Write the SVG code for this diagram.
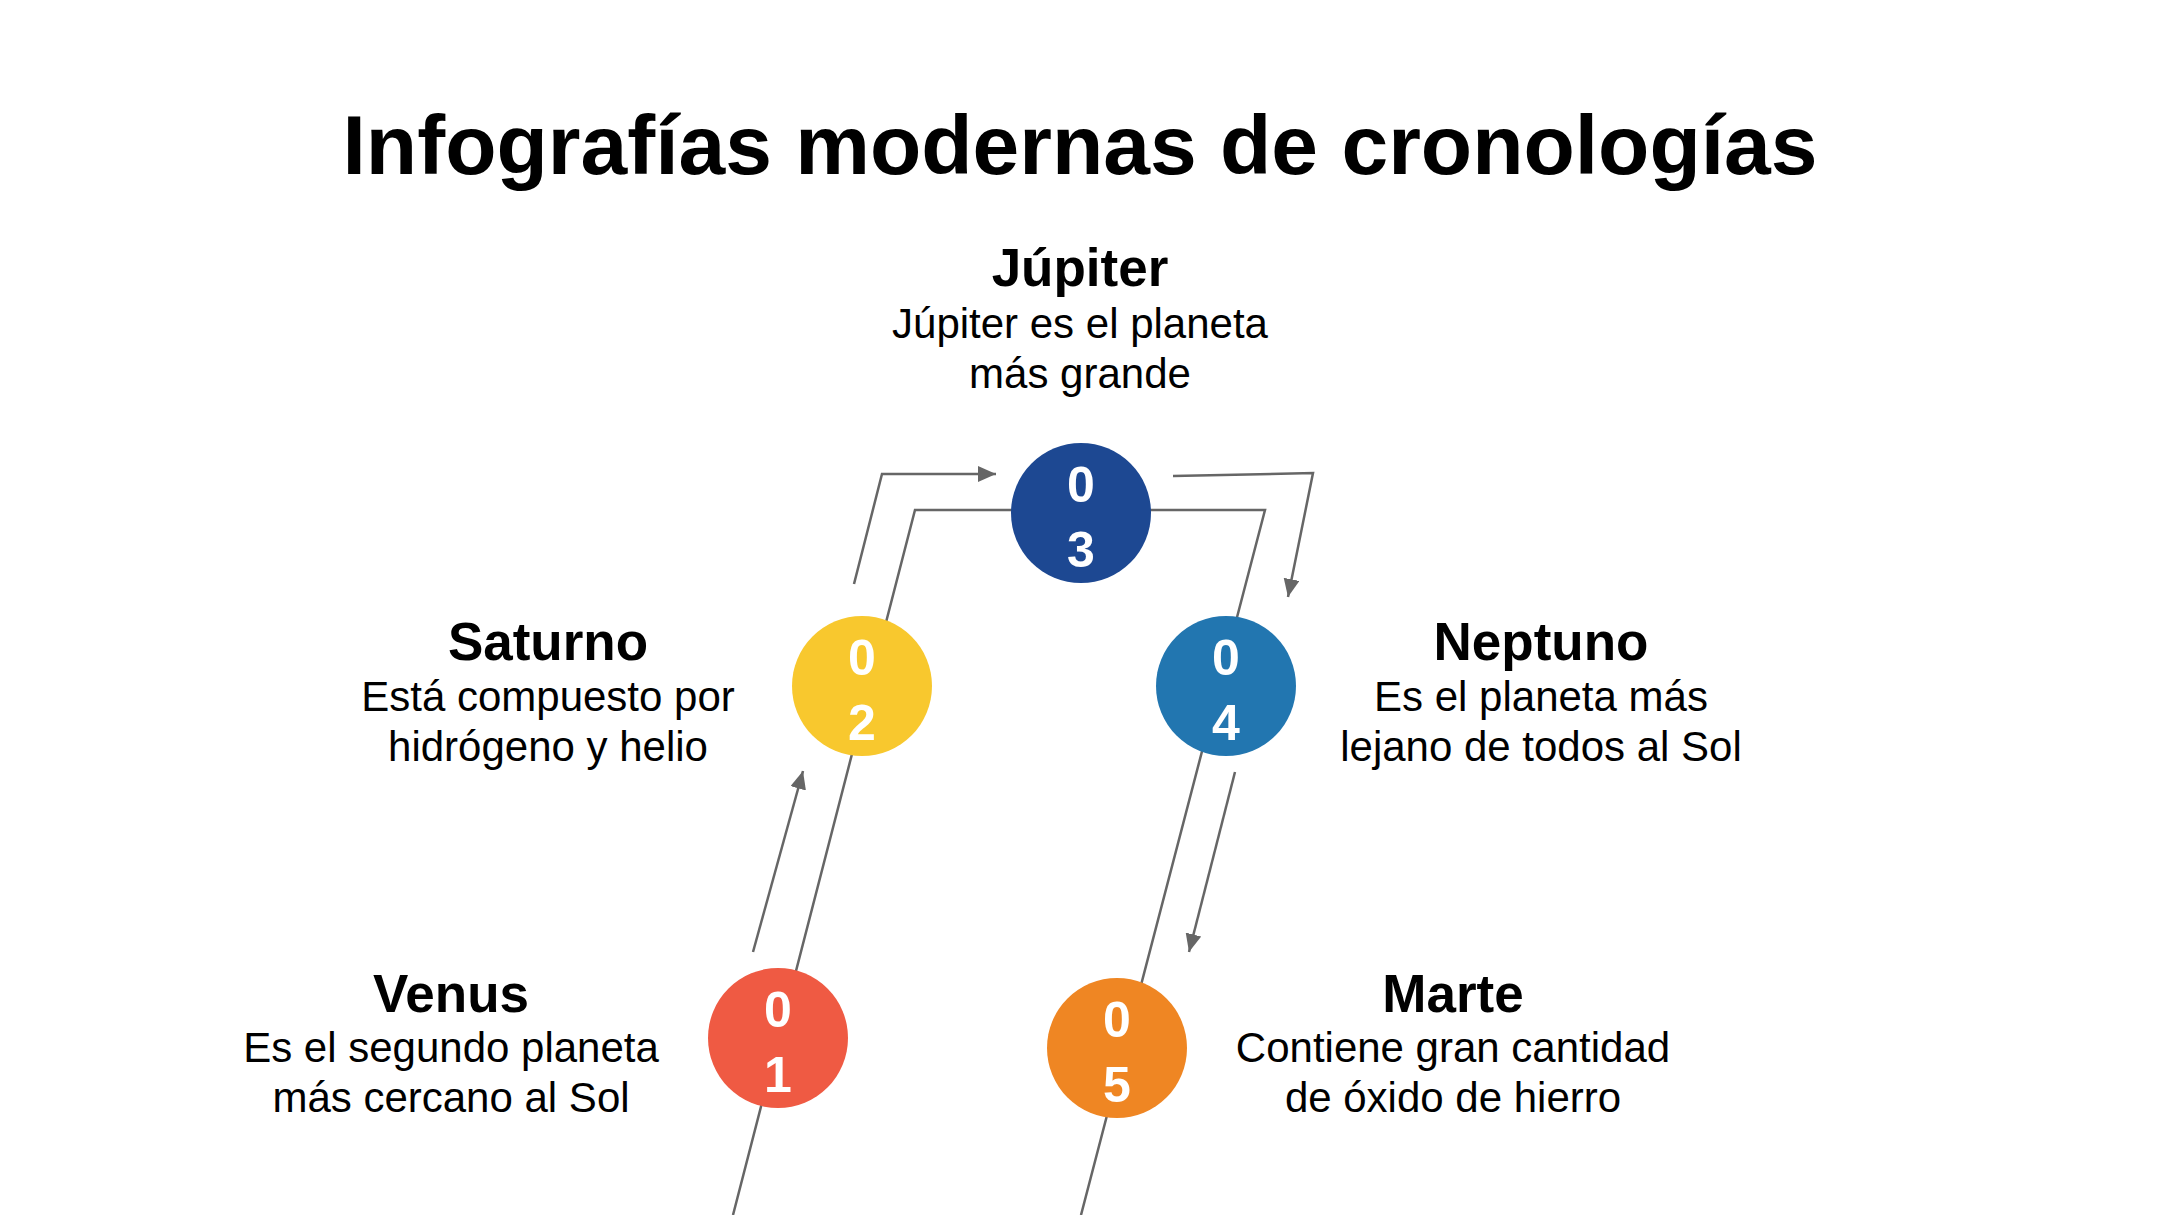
<svg xmlns="http://www.w3.org/2000/svg" width="2160" height="1215" viewBox="0 0 2160 1215">
<style>
.title{font-family:"Liberation Sans",Arial,sans-serif;font-weight:bold;font-size:84px;fill:#000;text-anchor:middle}
.head{font-family:"Liberation Sans",Arial,sans-serif;font-weight:bold;font-size:53px;fill:#000;text-anchor:middle}
.desc{font-family:"Liberation Sans",Arial,sans-serif;font-size:42px;fill:#000;text-anchor:middle}
.num{font-family:"Liberation Sans",Arial,sans-serif;font-weight:bold;font-size:50px;fill:#fff;text-anchor:middle}
.line{fill:none;stroke:#666;stroke-width:2.5}
.arrow{fill:none;stroke:#666;stroke-width:2.5;marker-end:url(#ah)}
</style>
<defs>
<marker id="ah" markerUnits="userSpaceOnUse" markerWidth="20" markerHeight="18" refX="18" refY="8" orient="auto">
<path d="M0,0 L18,8 L0,16 z" fill="#666"/>
</marker>
</defs>
<rect width="2160" height="1215" fill="#fff"/>
<text class="title" x="1080" y="174">Infografías modernas de cronologías</text>
<g id="connectors">
<polyline class="line" points="733,1215 915,510 1265,510 1081,1215"/>
<line class="arrow" x1="753" y1="952" x2="803" y2="771"/>
<polyline class="arrow" points="854,584 882,474 996,474"/>
<polyline class="arrow" points="1173,476 1313,473 1288,597"/>
<line class="arrow" x1="1235" y1="772" x2="1189" y2="952"/>
</g>
<g id="n01">
<circle cx="778" cy="1038" r="70" fill="#EF5A43"/>
<text class="num" x="778" y="1027">0</text>
<text class="num" x="778" y="1092">1</text>
<text class="head" x="451" y="1012">Venus</text>
<text class="desc" x="451" y="1062">Es el segundo planeta</text>
<text class="desc" x="451" y="1112">más cercano al Sol</text>
</g>
<g id="n02">
<circle cx="862" cy="686" r="70" fill="#F8C82E"/>
<text class="num" x="862" y="675">0</text>
<text class="num" x="862" y="740">2</text>
<text class="head" x="548" y="660">Saturno</text>
<text class="desc" x="548" y="711">Está compuesto por</text>
<text class="desc" x="548" y="761">hidrógeno y helio</text>
</g>
<g id="n03">
<circle cx="1081" cy="513" r="70" fill="#1D4892"/>
<text class="num" x="1081" y="502">0</text>
<text class="num" x="1081" y="567">3</text>
<text class="head" x="1080" y="286">Júpiter</text>
<text class="desc" x="1080" y="338">Júpiter es el planeta</text>
<text class="desc" x="1080" y="388">más grande</text>
</g>
<g id="n04">
<circle cx="1226" cy="686" r="70" fill="#2276B0"/>
<text class="num" x="1226" y="675">0</text>
<text class="num" x="1226" y="740">4</text>
<text class="head" x="1541" y="660">Neptuno</text>
<text class="desc" x="1541" y="711">Es el planeta más</text>
<text class="desc" x="1541" y="761">lejano de todos al Sol</text>
</g>
<g id="n05">
<circle cx="1117" cy="1048" r="70" fill="#EF8623"/>
<text class="num" x="1117" y="1037">0</text>
<text class="num" x="1117" y="1102">5</text>
<text class="head" x="1453" y="1012">Marte</text>
<text class="desc" x="1453" y="1062">Contiene gran cantidad</text>
<text class="desc" x="1453" y="1112">de óxido de hierro</text>
</g>
</svg>
